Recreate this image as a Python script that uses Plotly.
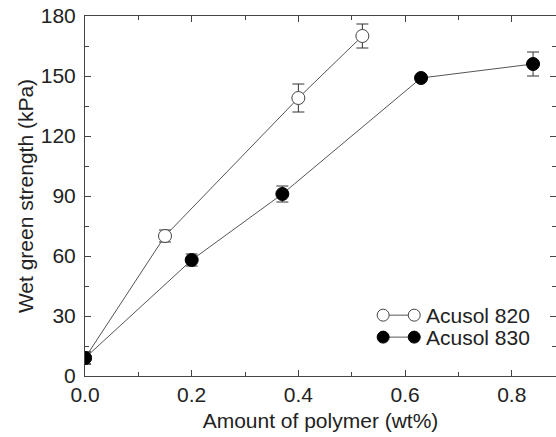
import plotly.graph_objects as go

# Data
x_820 = [0.0, 0.15, 0.40, 0.52]
y_820 = [9, 70, 139, 170]
e_820 = [3, 3, 7, 6]

x_830 = [0.0, 0.20, 0.37, 0.63, 0.84]
y_830 = [9, 58, 91, 149, 156]
e_830 = [3, 3, 4, 1, 6]

names = ["Acusol 820", "Acusol 830"]
x_ticks = [0.0, 0.2, 0.4, 0.6, 0.8]
x_ticklabels = ["0.0", "0.2", "0.4", "0.6", "0.8"]
y_ticks = [0, 30, 60, 90, 120, 150, 180]

FONT = "Liberation Sans, Arial, Helvetica, sans-serif"
LINE = "#555555"
TXT = "#222222"

fig = go.Figure()
fig.add_trace(go.Scatter(
    x=x_820, y=y_820, mode="lines+markers", name=names[0],
    line=dict(color=LINE, width=1),
    marker=dict(size=13, color="white", line=dict(color="#444444", width=1)),
    error_y=dict(type="data", array=e_820, color="#333333", thickness=1, width=6),
    showlegend=False,
))
fig.add_trace(go.Scatter(
    x=x_830, y=y_830, mode="lines+markers", name=names[1],
    line=dict(color=LINE, width=1),
    marker=dict(size=13, color="black", line=dict(color="black", width=1)),
    error_y=dict(type="data", array=e_830, color="#333333", thickness=1, width=6),
    showlegend=False,
))

# Custom legend (two markers joined by a line), in paper coordinates
legend_rows = [(0.169, "white"), (0.108, "black")]
for (yp, fill), name in zip(legend_rows, names):
    fig.add_shape(type="line", xref="paper", yref="paper",
                  x0=0.633, x1=0.699, y0=yp, y1=yp,
                  line=dict(color=LINE, width=1))
    for xp in (0.633, 0.699):
        fig.add_shape(type="circle", xref="paper", yref="paper",
                      xsizemode="pixel", ysizemode="pixel",
                      xanchor=xp, yanchor=yp,
                      x0=-6, x1=6, y0=-6, y1=6,
                      fillcolor=fill, line=dict(color="#444444" if fill == "white" else "black", width=1))
    fig.add_annotation(xref="paper", yref="paper", x=0.72, y=yp,
                       text=name, showarrow=False, xanchor="left", yanchor="middle",
                       font=dict(family=FONT, size=21, color=TXT))

fig.update_xaxes(
    range=[0, 0.883], tickvals=x_ticks, ticktext=x_ticklabels,
    ticks="inside", ticklen=6, tickcolor="#444444",
    minor=dict(dtick=0.1, ticks="inside", ticklen=4, tickcolor="#444444"),
    showline=True, linecolor="#444444", linewidth=1, mirror="ticks",
    showgrid=False, zeroline=False, automargin=False,
    tickfont=dict(family=FONT, size=21, color=TXT),
    title=dict(text="Amount of polymer (wt%)", font=dict(family=FONT, size=21, color=TXT), standoff=8),
)
fig.update_yaxes(
    range=[0, 180], tickvals=y_ticks,
    ticks="inside", ticklen=6, tickcolor="#444444",
    minor=dict(dtick=15, ticks="inside", ticklen=4, tickcolor="#444444"),
    showline=True, linecolor="#444444", linewidth=1, mirror="ticks",
    showgrid=False, zeroline=False, automargin=False,
    ticklabelstandoff=4,
    tickfont=dict(family=FONT, size=21, color=TXT),
    title=dict(text="Wet green strength (kPa)", font=dict(family=FONT, size=21, color=TXT), standoff=1),
)

fig.update_layout(
    width=556, height=437,
    margin=dict(l=85, r=0, t=16, b=61),
    plot_bgcolor="white", paper_bgcolor="white",
    font=dict(family=FONT),
)

fig.write_html("out.html", config={"displayModeBar": False},
               post_script="document.body.style.margin='0';")
